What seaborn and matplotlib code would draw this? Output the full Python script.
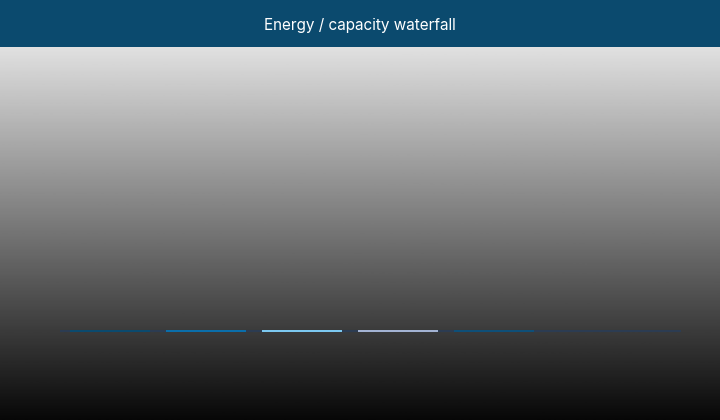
import numpy as np
import pandas as pd
import seaborn as sns
import matplotlib.pyplot as plt

# waterfall steps (values are tiny relative to the axis range, so bars look flat)
steps = ["Generation", "Imports", "Storage", "Losses", "Net"]
deltas = [2.0, 2.0, 2.0, 2.0, 2.0]
bar_colors = ["#0b4a6e", "#0a6eaa", "#7cc8f0", "#a3b3d3", "#0e4f78"]

sns.set_theme(style="white")
plt.rcParams["font.family"] = ["Inter", "DejaVu Sans"]

fig = plt.figure(figsize=(7.2, 4.2), dpi=100)

# gradient background
bg = fig.add_axes([0, 0, 1, 373 / 420])
grad = np.linspace(0.88, 0.03, 256).reshape(-1, 1)
bg.imshow(grad, aspect="auto", cmap="gray", vmin=0, vmax=1, extent=[0, 1, 0, 1])
bg.axis("off")

# title bar
tb = fig.add_axes([0, 1 - 47 / 420, 1, 47 / 420])
tb.set_facecolor("#0b4a6e")
tb.set_xticks([])
tb.set_yticks([])
for s in tb.spines.values():
    s.set_visible(False)
tb.text(0.5, 0.45, "Energy / capacity waterfall", color="white", fontsize=11,
        ha="center", va="center", transform=tb.transAxes)

# chart area
ax = fig.add_axes([60 / 720, 17 / 420, 621 / 720, 330 / 420])
ax.patch.set_alpha(0)
df = pd.DataFrame({"step": steps, "delta": deltas})
sns.barplot(data=df, x="step", y="delta", hue="step", palette=bar_colors,
            width=0.83, legend=False, ax=ax, saturation=1, linewidth=0, zorder=3)
ax.axhline(1.0, color="#2c3c52", lw=1.5, zorder=1)
ax.set_xlim(-0.52, 5.95)
ax.set_ylim(-60, 220)
ax.set_xlabel("")
ax.set_ylabel("")
ax.set_xticks([])
ax.set_yticks([])
for s in ax.spines.values():
    s.set_visible(False)

fig.savefig("out.png", dpi=100)
